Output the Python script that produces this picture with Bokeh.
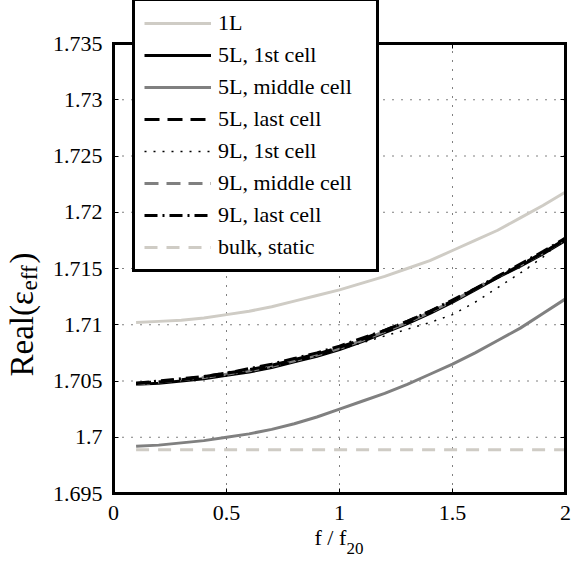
import math
from bokeh.plotting import figure
from bokeh.models import Range1d, FixedTicker, Legend, LegendItem, Label, LinearAxis
from bokeh.embed import file_html
from bokeh.resources import INLINE

# ---- data ----
freq = [0.1, 0.2, 0.3, 0.4, 0.5, 0.6, 0.7, 0.8, 0.9, 1.0,
        1.1, 1.2, 1.3, 1.4, 1.5, 1.6, 1.7, 1.8, 1.9, 2.0]
one_layer = [1.7102, 1.7103, 1.7104, 1.7106, 1.7109, 1.7112, 1.7116, 1.7121, 1.7126, 1.7131,
             1.7137, 1.7143, 1.7150, 1.7157, 1.7166, 1.7175, 1.7184, 1.7195, 1.7206, 1.7218]
five_first = [1.7047, 1.7048, 1.7050, 1.7052, 1.7055, 1.7058, 1.7062, 1.7067, 1.7072, 1.7078,
              1.7085, 1.7093, 1.7101, 1.7110, 1.7120, 1.7131, 1.7142, 1.7152, 1.7163, 1.7175]
five_middle = [1.6992, 1.6993, 1.6995, 1.6997, 1.7000, 1.7003, 1.7007, 1.7012, 1.7018, 1.7025,
               1.7032, 1.7039, 1.7047, 1.7056, 1.7065, 1.7075, 1.7086, 1.7097, 1.7110, 1.7123]
five_last = [1.7048, 1.7049, 1.7051, 1.7054, 1.7057, 1.7060, 1.7064, 1.7069, 1.7074, 1.7080,
             1.7087, 1.7095, 1.7103, 1.7112, 1.7121, 1.7132, 1.7142, 1.7153, 1.7164, 1.7176]
nine_first = [1.7047, 1.7048, 1.7050, 1.7052, 1.7055, 1.7058, 1.7062, 1.7067, 1.7072, 1.7078,
              1.7084, 1.7090, 1.7096, 1.7102, 1.7109, 1.7120, 1.7133, 1.7146, 1.7160, 1.7178]
nine_middle = [1.7047, 1.7049, 1.7051, 1.7053, 1.7056, 1.7059, 1.7063, 1.7068, 1.7073, 1.7079,
               1.7086, 1.7094, 1.7102, 1.7111, 1.7121, 1.7132, 1.7143, 1.7153, 1.7164, 1.7176]
nine_last = [1.7048, 1.7050, 1.7052, 1.7054, 1.7057, 1.7061, 1.7065, 1.7070, 1.7075, 1.7081,
             1.7088, 1.7095, 1.7103, 1.7112, 1.7122, 1.7132, 1.7143, 1.7154, 1.7165, 1.7177]
bulk_x = [0.1, 2.0]
bulk_y = [1.6989, 1.6989]

x_ticks = [0, 0.5, 1, 1.5, 2]
x_tick_labels = ["0", "0.5", "1", "1.5", "2"]
y_ticks = [1.695, 1.7, 1.705, 1.71, 1.715, 1.72, 1.725, 1.73, 1.735]
y_tick_labels = ["1.695", "1.7", "1.705", "1.71", "1.715", "1.72", "1.725", "1.73", "1.735"]
x_lim = [0, 2]
y_lim = [1.695, 1.735]

series_names = ["1L", "5L, 1st cell", "5L, middle cell", "5L, last cell",
                "9L, 1st cell", "9L, middle cell", "9L, last cell", "bulk, static"]

FONT = "Liberation Serif"
LIGHT = "#cfccc5"
GRAY = "#808080"

# canvas geometry: the frame covers the whole canvas; the axes box sits inside it
W, H = 573, 562
BOX_L, BOX_R, BOX_T, BOX_B = 113, 565, 43, 493   # axes box in canvas pixels
sx = (x_lim[1] - x_lim[0]) / (BOX_R - BOX_L)
sy = (y_lim[1] - y_lim[0]) / (BOX_B - BOX_T)
xr = Range1d(x_lim[0] - BOX_L * sx, x_lim[1] + (W - BOX_R) * sx)
yr = Range1d(y_lim[0] - (H - BOX_B) * sy, y_lim[1] + BOX_T * sy)

p = figure(width=W, height=H, output_backend="svg", toolbar_location=None,
           x_range=xr, y_range=yr,
           min_border_left=0, min_border_right=0, min_border_top=0, min_border_bottom=0)
p.background_fill_color = "white"
p.border_fill_color = "white"
p.outline_line_color = None
p.xgrid.visible = False
p.ygrid.visible = False

# dotted grid, drawn inside the box only
p.segment(x0=x_ticks[1:-1], y0=[y_lim[0]] * 3, x1=x_ticks[1:-1], y1=[y_lim[1]] * 3,
          line_color="black", line_width=1, line_dash="1 8")
p.segment(x0=[x_lim[0]] * 7, y0=y_ticks[1:-1], x1=[x_lim[1]] * 7, y1=y_ticks[1:-1],
          line_color="black", line_width=1, line_dash="1 8")

def style_axis(ax, show_labels):
    ax.axis_line_color = "black"
    ax.axis_line_width = 3
    ax.axis_line_cap = "square"
    ax.major_tick_in = 5
    ax.major_tick_out = 0
    ax.major_tick_line_color = "black"
    ax.minor_tick_line_color = None
    ax.major_label_text_font = FONT
    ax.major_label_text_font_size = "22px"
    ax.major_label_text_color = "black" if show_labels else None

xa = p.xaxis[0]
ya = p.yaxis[0]
xa.fixed_location = y_lim[0]
ya.fixed_location = x_lim[0]
xa.bounds = (x_lim[0], x_lim[1])
ya.bounds = (y_lim[0], y_lim[1])
style_axis(xa, True)
style_axis(ya, True)
xa.ticker = FixedTicker(ticks=x_ticks)
xa.major_label_overrides = {t: l for t, l in zip(x_ticks, x_tick_labels)}
xa.major_label_standoff = 12
ya.ticker = FixedTicker(ticks=y_ticks)
ya.major_label_overrides = {t: l for t, l in zip(y_ticks, y_tick_labels)}
ya.major_label_standoff = 11

top = LinearAxis(fixed_location=y_lim[1], bounds=(x_lim[0], x_lim[1]), ticker=FixedTicker(ticks=x_ticks))
right = LinearAxis(fixed_location=x_lim[1], bounds=(y_lim[0], y_lim[1]), ticker=FixedTicker(ticks=y_ticks))
style_axis(top, False)
style_axis(right, False)
p.add_layout(top, "above")
p.add_layout(right, "right")

r_bulk = p.line(bulk_x, bulk_y, line_color=LIGHT, line_width=3, line_dash="13 9")
r_1l = p.line(freq, one_layer, line_color=LIGHT, line_width=3)
r_5m = p.line(freq, five_middle, line_color=GRAY, line_width=3)
r_5f = p.line(freq, five_first, line_color="black", line_width=3)
r_9m = p.line(freq, nine_middle, line_color=GRAY, line_width=3, line_dash="14 8")
r_5l = p.line(freq, five_last, line_color="black", line_width=3, line_dash="15 8")
r_9l = p.line(freq, nine_last, line_color="black", line_width=3, line_dash="13 5 2 5")
r_9f = p.line(freq, nine_first, line_color="black", line_width=1.5, line_dash="2 7")

renderers = [r_1l, r_5f, r_5m, r_5l, r_9f, r_9m, r_9l, r_bulk]
legend = Legend(items=[LegendItem(label=n, renderers=[r]) for n, r in zip(series_names, renderers)],
                location=(132, H - 272), orientation="vertical",
                label_text_font=FONT, label_text_font_size="22px", label_text_color="black",
                glyph_width=67, glyph_height=26, label_height=26, label_width=149,
                label_standoff=7, spacing=6, padding=9, margin=0,
                border_line_color="black", border_line_width=3, border_line_alpha=1.0,
                background_fill_color="white", background_fill_alpha=1.0)
p.add_layout(legend, "center")

# x axis label: f / f_20
p.add_layout(Label(x=314, y=H - 537, x_units="screen", y_units="screen", text="f / f",
                   text_font=FONT, text_font_size="22px", text_color="black",
                   text_align="left", text_baseline="alphabetic"))
p.add_layout(Label(x=346, y=H - 548, x_units="screen", y_units="screen", text="20",
                   text_font=FONT, text_font_size="17px", text_color="black",
                   text_align="left", text_baseline="alphabetic"))

# y axis label: Real(eps_eff)
ang = math.pi / 2
y0 = H - 376
bx = 21
p.add_layout(Label(x=bx, y=y0, x_units="screen", y_units="screen", text="Real(\u03b5",
                   angle=ang, text_font=FONT, text_font_size="33px", text_color="black",
                   text_align="left", text_baseline="alphabetic"))
p.add_layout(Label(x=bx + 8, y=y0 + 86, x_units="screen", y_units="screen", text="eff",
                   angle=ang, text_font=FONT, text_font_size="23px", text_color="black",
                   text_align="left", text_baseline="alphabetic"))
p.add_layout(Label(x=bx, y=y0 + 113, x_units="screen", y_units="screen", text=")",
                   angle=ang, text_font=FONT, text_font_size="33px", text_color="black",
                   text_align="left", text_baseline="alphabetic"))

open("out.html", "w").write(file_html(p, INLINE))
